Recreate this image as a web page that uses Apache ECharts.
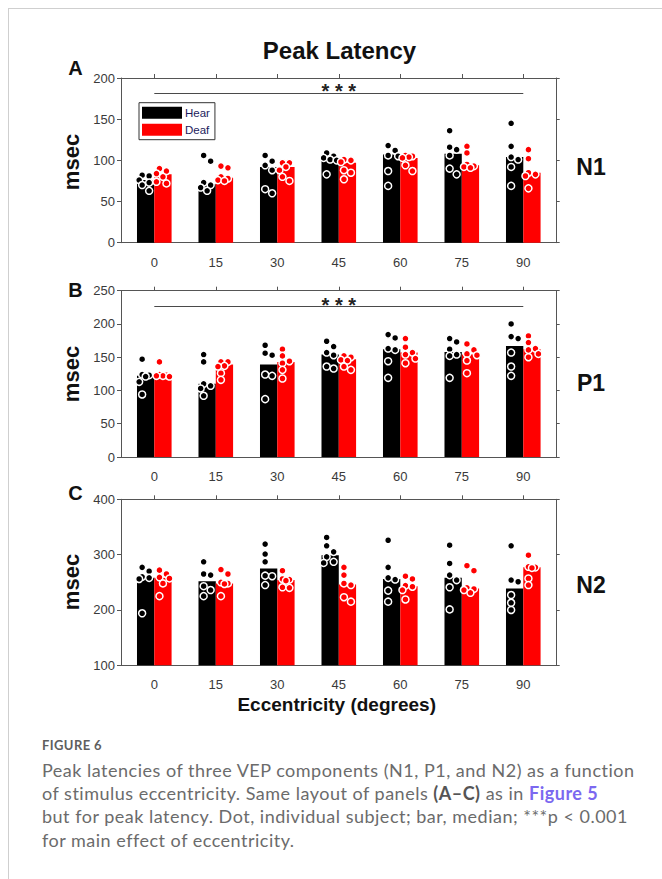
<!DOCTYPE html>
<html>
<head>
<meta charset="utf-8">
<script src="https://cdn.jsdelivr.net/npm/echarts@6/dist/echarts.min.js"></script>
<style>
html,body{margin:0;padding:0;background:#fff;}
#wrap{position:relative;width:662px;height:879px;overflow:hidden;background:#fff;}
#frame{position:absolute;left:8px;top:8px;width:720px;height:900px;border-left:1px solid #cfcfcf;border-top:1px solid #cfcfcf;}
#chart{position:absolute;left:0;top:0;width:662px;height:725px;}
#cap{position:absolute;left:42px;top:0;width:620px;font-family:Lato,'Open Sans',sans-serif;color:#6b6b6b;}
#cap .fig{position:absolute;left:0;top:738.3px;font-size:13px;line-height:15px;font-weight:700;color:#5e5e5e;letter-spacing:0.4px;white-space:nowrap;}
#cap .ln{position:absolute;left:0;font-size:18px;line-height:23.3px;letter-spacing:0.5px;white-space:nowrap;}
#cap b{font-weight:700;color:#555;}
#cap .lnk{font-weight:700;color:#7b68f0;}
</style>
</head>
<body>
<div id="wrap">
  <div id="frame"></div>
  <div id="chart"></div>
  <div id="cap">
    <div class="fig">FIGURE 6</div>
    <div class="ln" style="top:758.6px">Peak latencies of three VEP components (N1, P1, and N2) as a function</div>
    <div class="ln" style="top:781.9px">of stimulus eccentricity. Same layout of panels <b>(A–C)</b> as in <span class="lnk">Figure 5</span></div>
    <div class="ln" style="top:805.2px">but for peak latency. Dot, individual subject; bar, median; ***p &lt; 0.001</div>
    <div class="ln" style="top:828.5px">for main effect of eccentricity.</div>
  </div>
</div>
<script>
// ---------------- data ----------------
const eccentricity = [0, 15, 30, 45, 60, 75, 90];

// N1 (panel A)
const n1HearMedian = [76, 71, 92, 103, 107, 108, 104];
const n1DeafMedian = [83, 79, 92, 97, 103, 94, 85];
const n1HearDots = [
  [82, 81, 76, 73, 70, 63],
  [106, 99, 73, 70, 67, 63],
  [106, 99, 94, 88, 65, 60],
  [109, 105, 103, 101, 100, 83],
  [118, 112, 106, 105, 87, 69],
  [136, 116, 113, 106, 90, 83],
  [145, 117, 104, 101, 92, 69]
];
const n1DeafDots = [
  [90, 87, 84, 80, 74, 72],
  [93, 91, 80, 78, 76, 75],
  [97, 97, 92, 88, 80, 75],
  [101, 100, 98, 88, 85, 77],
  [106, 105, 104, 103, 94, 87],
  [117, 109, 95, 93, 92, 91],
  [113, 102, 85, 83, 81, 66]
];

// P1 (panel B)
const p1HearMedian = [122, 110, 139, 154, 162, 158, 167];
const p1DeafMedian = [123, 139, 143, 147, 157, 154, 162];
const p1HearDots = [
  [147, 124, 123, 121, 113, 94],
  [154, 143, 110, 107, 103, 92],
  [168, 156, 153, 124, 122, 87],
  [174, 166, 157, 153, 136, 133],
  [184, 179, 163, 161, 144, 119],
  [178, 173, 162, 154, 152, 119],
  [200, 181, 178, 157, 136, 122]
];
const p1DeafDots = [
  [143, 124, 123, 122, 122, 121],
  [143, 143, 137, 136, 126, 116],
  [162, 152, 144, 141, 131, 118],
  [152, 150, 146, 145, 136, 131],
  [178, 165, 157, 154, 148, 141],
  [170, 161, 155, 153, 145, 126],
  [182, 172, 163, 161, 155, 150]
];

// N2 (panel C)
const n2HearMedian = [258, 252, 275, 299, 256, 258, 239];
const n2DeafMedian = [258, 248, 254, 246, 243, 239, 277];
const n2HearDots = [
  [277, 270, 260, 258, 256, 194],
  [287, 265, 263, 243, 236, 225],
  [319, 301, 287, 262, 261, 245],
  [331, 316, 305, 296, 287, 285],
  [326, 277, 258, 255, 235, 215],
  [317, 284, 263, 254, 241, 201],
  [316, 254, 251, 227, 213, 200]
];
const n2DeafDots = [
  [272, 265, 259, 257, 248, 225],
  [273, 265, 250, 248, 247, 225],
  [271, 256, 255, 253, 241, 240],
  [277, 263, 248, 245, 223, 215],
  [261, 256, 244, 242, 236, 219],
  [280, 271, 240, 238, 236, 231],
  [299, 278, 277, 276, 257, 245]
];

// significance bar level (main effect of eccentricity)
const n1SigLevel = 182;
const p1SigLevel = 226;

// y-axis ranges / ticks
const n1Axis = [0, 200, 50];
const p1Axis = [0, 250, 50];
const n2Axis = [100, 400, 100];

// ---------------- layout ----------------
const FONT = "'Liberation Sans', Arial, sans-serif";
const GRID_LEFT = 121, GRID_W = 435.7;
const X_MIN = -8.12, X_MAX = 98.15;
const BAR_W = 17.3;
const AXIS_COLOR = '#555';
const LABEL_COLOR = '#3a3a3a';

const panels = [
  {name: 'N1', top: 78, height: 164.7, axis: n1Axis, hear: n1HearMedian, deaf: n1DeafMedian,
   hearDots: n1HearDots, deafDots: n1DeafDots, sig: n1SigLevel},
  {name: 'P1', top: 290.7, height: 166.3, axis: p1Axis, hear: p1HearMedian, deaf: p1DeafMedian,
   hearDots: p1HearDots, deafDots: p1DeafDots, sig: p1SigLevel},
  {name: 'N2', top: 499.3, height: 166, axis: n2Axis, hear: n2HearMedian, deaf: n2DeafMedian,
   hearDots: n2HearDots, deafDots: n2DeafDots, sig: null}
];

// beeswarm-like horizontal spread of dots (pixels) so they don't overlap
function swarm(vals, ppu) {
  const order = vals.map((v, i) => i).sort((a, b) => vals[b] - vals[a]);
  const cands = [-3.5, 3.5, 0, -6.5, 6.5];
  const off = new Array(vals.length).fill(0);
  const placed = [];
  for (const i of order) {
    let chosen = null, bestD = -1, bestC = 0;
    for (const c of cands) {
      let minD = Infinity;
      for (const p of placed) {
        const dx = c - p.x, dy = (vals[i] - p.v) * ppu;
        minD = Math.min(minD, Math.sqrt(dx * dx + dy * dy));
      }
      if (minD >= 6.5) { chosen = c; break; }
      if (minD > bestD) { bestD = minD; bestC = c; }
    }
    if (chosen === null) chosen = bestC;
    off[i] = chosen;
    placed.push({x: chosen, v: vals[i]});
  }
  return off;
}

function barRender(side, yMin, color) {
  return function (params, api) {
    const x = api.value(0), v = api.value(1);
    const p = api.coord([x, v]);
    const b = api.coord([x, yMin]);
    return {
      type: 'rect',
      shape: {x: side < 0 ? p[0] - BAR_W : p[0], y: p[1], width: BAR_W, height: b[1] - p[1]},
      style: {fill: color}
    };
  };
}

const grids = [], xAxes = [], yAxes = [], series = [];
panels.forEach((pn, i) => {
  const [yMin, yMax, yInt] = pn.axis;
  grids.push({left: GRID_LEFT, top: pn.top, width: GRID_W, height: pn.height,
              containLabel: false, outerBoundsMode: 'none'});
  const lineStyle = {color: AXIS_COLOR, width: 1};
  xAxes.push({
    type: 'value', gridIndex: i, min: X_MIN, max: X_MAX, position: 'bottom',
    axisLine: {show: true, onZero: false, lineStyle},
    axisTick: {show: false}, splitLine: {show: false},
    axisLabel: {customValues: eccentricity, margin: 13, fontSize: 13, color: LABEL_COLOR, fontFamily: FONT}
  });
  xAxes.push({
    type: 'value', gridIndex: i, min: X_MIN, max: X_MAX, position: 'top',
    axisLine: {show: true, onZero: false, lineStyle},
    axisTick: {show: true, customValues: eccentricity, length: 4, inside: false, lineStyle},
    splitLine: {show: false}, axisLabel: {show: false}
  });
  yAxes.push({
    type: 'value', gridIndex: i, min: yMin, max: yMax, interval: yInt, position: 'left',
    axisLine: {show: true, onZero: false, lineStyle},
    axisTick: {show: true, length: 4, inside: false, lineStyle},
    splitLine: {show: false},
    axisLabel: {margin: 6, fontSize: 13, color: LABEL_COLOR, fontFamily: FONT, showMinLabel: true, showMaxLabel: true}
  });
  yAxes.push({
    type: 'value', gridIndex: i, min: yMin, max: yMax, interval: yInt, position: 'right',
    axisLine: {show: true, onZero: false, lineStyle},
    axisTick: {show: true, length: 3, inside: false, lineStyle},
    splitLine: {show: false}, axisLabel: {show: false}
  });

  const xi = 2 * i, yi = 2 * i;
  series.push({
    type: 'custom', name: 'Hear', xAxisIndex: xi, yAxisIndex: yi, z: 2,
    itemStyle: {color: '#000'},
    renderItem: barRender(-1, yMin, '#000'),
    data: eccentricity.map((e, j) => [e, pn.hear[j]])
  });
  series.push({
    type: 'custom', name: 'Deaf', xAxisIndex: xi, yAxisIndex: yi, z: 2,
    itemStyle: {color: '#ff0000'},
    renderItem: barRender(1, yMin, '#ff0000'),
    data: eccentricity.map((e, j) => [e, pn.deaf[j]])
  });

  const ppu = pn.height / (yMax - yMin);
  const mkDots = (dots, center) => {
    const out = [];
    dots.forEach((vals, j) => {
      const off = swarm(vals, ppu);
      vals.forEach((v, k) => out.push({value: [eccentricity[j], v], symbolOffset: [center + off[k], 0]}));
    });
    return out;
  };

  const hearScatter = {
    type: 'scatter', name: 'Hear subjects', xAxisIndex: xi, yAxisIndex: yi, z: 5,
    symbol: 'circle', symbolSize: 7,
    itemStyle: {color: '#000', borderColor: '#fff', borderWidth: 1.5, opacity: 1},
    data: mkDots(pn.hearDots, -BAR_W / 2)
  };
  if (pn.sig !== null) {
    hearScatter.markLine = {
      silent: true, symbol: 'none', animation: false,
      lineStyle: {color: '#4a4a4a', width: 1.2, type: 'solid'},
      label: {show: true, position: 'middle', formatter: '* * *', fontSize: 20, fontWeight: 'bold',
              fontFamily: FONT, color: '#222', distance: 0, offset: [0, 8]},
      data: [[{coord: [eccentricity[0], pn.sig]}, {coord: [eccentricity[eccentricity.length - 1], pn.sig]}]]
    };
  }
  series.push(hearScatter);
  series.push({
    type: 'scatter', name: 'Deaf subjects', xAxisIndex: xi, yAxisIndex: yi, z: 5,
    symbol: 'circle', symbolSize: 7,
    itemStyle: {color: '#ff0000', borderColor: '#fff', borderWidth: 1.5, opacity: 1},
    data: mkDots(pn.deafDots, BAR_W / 2)
  });
});

function txt(x, y, text, font, extra) {
  return Object.assign({
    type: 'text', x: x, y: y, silent: true,
    style: {text: text, font: font, fill: '#111', align: 'center', verticalAlign: 'middle',
            textAlign: 'center', textVerticalAlign: 'middle'}
  }, extra || {});
}

const graphics = [
  txt(339.5, 50.5, 'Peak Latency', "bold 24px " + FONT),
  txt(75.5, 68.3, 'A', "bold 20px " + FONT),
  txt(75.5, 290.2, 'B', "bold 20px " + FONT),
  txt(75.5, 493.3, 'C', "bold 20px " + FONT),
  txt(71, 162, 'msec', "bold 22px " + FONT, {rotation: Math.PI / 2}),
  txt(71, 374, 'msec', "bold 22px " + FONT, {rotation: Math.PI / 2}),
  txt(71, 582, 'msec', "bold 22px " + FONT, {rotation: Math.PI / 2}),
  txt(591, 166.7, 'N1', "bold 23px " + FONT),
  txt(591, 383, 'P1', "bold 23px " + FONT),
  txt(591, 584.7, 'N2', "bold 23px " + FONT),
  txt(336.7, 704.5, 'Eccentricity (degrees)', "bold 19px " + FONT)
];

const chart = echarts.init(document.getElementById('chart'), null, {renderer: 'svg'});
chart.setOption({
  backgroundColor: 'transparent',
  animation: false,
  grid: grids,
  xAxis: xAxes,
  yAxis: yAxes,
  legend: {
    left: 139, top: 102.7, orient: 'vertical', selectedMode: false,
    itemWidth: 40, itemHeight: 12, itemGap: 5,
    padding: [4, 5, 4, 3],
    borderColor: '#333', borderWidth: 1, backgroundColor: '#fff',
    textStyle: {fontSize: 11.5, lineHeight: 12, color: '#1c1c5c', fontFamily: FONT, padding: [0, 0, 0, -2]},
    data: [
      {name: 'Hear', icon: 'rect', itemStyle: {color: '#000'}},
      {name: 'Deaf', icon: 'rect', itemStyle: {color: '#ff0000'}}
    ]
  },
  graphic: graphics,
  series: series
});
</script>
</body>
</html>
